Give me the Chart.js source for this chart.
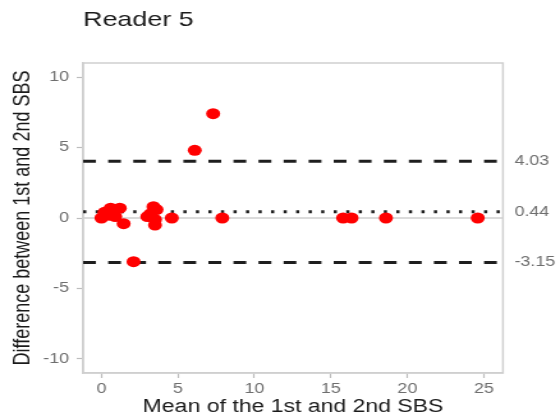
<!DOCTYPE html>
<html>
<head>
<meta charset="utf-8">
<script src="https://cdn.jsdelivr.net/npm/chart.js@4.4.1/dist/chart.umd.min.js"></script>
<style>
    html, body { margin: 0; padding: 0; background: #fff; overflow: hidden; }
    /* the reference picture is stretched sideways, so the canvas is too */
    #wrap { width: 438px; height: 420px; transform: scaleX(1.2785); transform-origin: 0 0; }
</style>
</head>
<body>
<div id="wrap"><canvas id="grafico" width="438" height="420"></canvas></div>
<script>
const titulo = 'Reader 5';
const tituloX = 'Mean of the 1st and 2nd SBS';
const tituloY = 'Difference between 1st and 2nd SBS';

const meanSbs = [0, 0.2, 0.5, 0.6, 0.9, 1.2, 1.45, 2.1, 3.0, 3.2, 3.4, 3.5, 3.5, 3.6, 4.6, 6.1, 7.3, 7.9, 15.8, 16.35, 18.6, 24.6];
const diffSbs = [0, 0.4, 0.2, 0.7, 0.1, 0.7, -0.4, -3.1, 0.1, 0.3, 0.8, -0.1, -0.5, 0.6, 0, 4.8, 7.4, 0, 0, 0, 0, 0];

const xTicks = [0, 5, 10, 15, 20, 25];
const yTicks = [-10, -5, 0, 5, 10];
const xLimites = [-1.2, 26.25];
const yLimites = [-11, 11];

const mediaDif = 0.44;
const limiteSup = 4.03;
const limiteInf = -3.15;
const rotulosLinhas = ['4.03', '0.44', '-3.15'];
const valoresLinhas = [limiteSup, mediaDif, limiteInf];

const fonte = "'Liberation Sans', Arial, sans-serif";

const pontos = meanSbs.map((x, i) => ({ x, y: diffSbs[i] }));
const linha = v => xLimites.map(x => ({ x, y: v }));

const textosExtras = {
    id: 'textosExtras',
    beforeDatasetsDraw(chart) {
        const { ctx, chartArea: a } = chart;
        ctx.save();
        ctx.strokeStyle = '#cfcfcf';
        ctx.lineWidth = 1.5;
        ctx.strokeRect(a.left, a.top, a.right - a.left, a.bottom - a.top);
        ctx.restore();
    },
    afterDraw(chart) {
        const { ctx, chartArea: a } = chart;
        const y = chart.scales.y;
        ctx.save();

        ctx.fillStyle = '#1a1a1a';
        ctx.font = `21px ${fonte}`;
        ctx.textAlign = 'left';
        ctx.textBaseline = 'alphabetic';
        ctx.fillText(titulo, 65, 26);

        ctx.font = `18px ${fonte}`;
        ctx.textAlign = 'center';
        ctx.fillText(tituloX, (a.left + a.right) / 2, 412);

        ctx.save();
        ctx.translate(18.5, (a.top + a.bottom) / 2);
        ctx.rotate(-Math.PI / 2);
        ctx.textBaseline = 'middle';
        ctx.fillText(tituloY, 0, 0);
        ctx.restore();

        ctx.fillStyle = '#6e6e6e';
        ctx.font = `14px ${fonte}`;
        ctx.textAlign = 'left';
        ctx.textBaseline = 'middle';
        valoresLinhas.forEach((v, i) => {
            ctx.fillText(rotulosLinhas[i], a.right + 9, y.getPixelForValue(v));
        });

        ctx.restore();
    }
};

new Chart(document.getElementById('grafico'), {
    type: 'scatter',
    data: {
        datasets: [
            {
                type: 'line',
                data: linha(0),
                borderColor: '#cfcfcf',
                borderWidth: 1.5,
                pointRadius: 0,
                order: 3
            },
            {
                type: 'line',
                data: linha(limiteSup),
                borderColor: '#1e1e1e',
                borderWidth: 3,
                borderDash: [10, 9.6],
                pointRadius: 0,
                order: 2
            },
            {
                type: 'line',
                data: linha(limiteInf),
                borderColor: '#1e1e1e',
                borderWidth: 3,
                borderDash: [10, 9.6],
                pointRadius: 0,
                order: 2
            },
            {
                type: 'line',
                data: linha(mediaDif),
                borderColor: '#1e1e1e',
                borderWidth: 3,
                borderDash: [2.5, 7.3],
                pointRadius: 0,
                order: 2
            },
            {
                data: pontos,
                backgroundColor: '#ff0000',
                borderWidth: 0,
                pointRadius: 5.5,
                order: 1
            }
        ]
    },
    options: {
        responsive: false,
        animation: false,
        devicePixelRatio: 1,
        events: [],
        layout: { padding: { left: 0, right: 44.6, top: 63, bottom: 0 } },
        plugins: {
            legend: { display: false },
            tooltip: { enabled: false }
        },
        scales: {
            x: {
                type: 'linear',
                min: xLimites[0],
                max: xLimites[1],
                afterBuildTicks: s => { s.ticks = xTicks.map(value => ({ value })); },
                afterFit: s => { s.height = 47; },
                grid: { drawOnChartArea: false, tickLength: 5, tickColor: '#bdbdbd', tickWidth: 1.2 },
                border: { color: '#cfcfcf', width: 1.5 },
                ticks: { color: '#6e6e6e', font: { size: 14, family: fonte }, padding: 3, maxRotation: 0 }
            },
            y: {
                min: yLimites[0],
                max: yLimites[1],
                afterBuildTicks: s => { s.ticks = yTicks.map(value => ({ value })); },
                afterFit: s => { s.width = 65; },
                grid: { drawOnChartArea: false, tickLength: 5, tickColor: '#bdbdbd', tickWidth: 1.2 },
                border: { color: '#cfcfcf', width: 1.5 },
                ticks: { color: '#6e6e6e', font: { size: 14, family: fonte }, padding: 6 }
            }
        }
    },
    plugins: [textosExtras]
});
</script>
</body>
</html>
